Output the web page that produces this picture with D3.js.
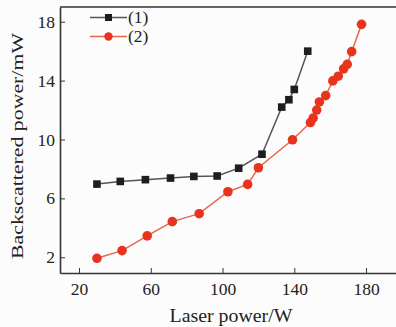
<!DOCTYPE html>
<html>
<head>
<meta charset="utf-8">
<script src="https://cdn.jsdelivr.net/npm/d3@7"></script>
<style>
  body { margin: 0; background: #fcfcfc; }
  svg { display: block; }
  text { font-family: "Liberation Serif", "DejaVu Serif", serif; fill: #222; }
</style>
</head>
<body>
<div id="chart"></div>
<script>
// series (1): black squares
const power1 = [30, 43, 57, 71, 84, 97, 109, 122, 133, 137, 140, 147.5];
const back1 = [6.97, 7.15, 7.27, 7.38, 7.49, 7.52, 8.05, 9.0, 12.2, 12.7, 13.4, 16.0];

// series (2): red circles
const power2 = [30, 44, 58, 72, 87, 103, 114, 120, 139, 149, 150.5, 152.5, 154, 157.5, 161.5, 164.5, 167.5, 169.5, 172, 177.5];
const back2 = [1.93, 2.45, 3.45, 4.42, 4.96, 6.45, 6.95, 8.08, 9.98, 11.15, 11.45, 12.0, 12.55, 12.98, 13.98, 14.3, 14.8, 15.1, 15.97, 17.82];

const xTicks = [20, 60, 100, 140, 180];
const yTicks = [2, 6, 10, 14, 18];
const legendLabels = ["(1)", "(2)"];

const width = 396;
const height = 327;
const margin = { top: 7, right: 0, bottom: 54, left: 60 };

const x = d3.scaleLinear().domain([9.4, 196.7]).range([margin.left, width - margin.right]);
const y = d3.scaleLinear().domain([0.93, 19]).range([height - margin.bottom, margin.top]);

const svg = d3.select("#chart").append("svg")
    .attr("width", width)
    .attr("height", height);

// frame: left, bottom and top lines
const axisColor = "#333";
svg.append("line")
    .attr("x1", margin.left).attr("x2", width)
    .attr("y1", margin.top).attr("y2", margin.top)
    .attr("stroke", axisColor).attr("stroke-width", 1.6);

const xAxis = svg.append("g")
    .attr("transform", `translate(0,${height - margin.bottom})`)
    .call(d3.axisBottom(x).tickValues(xTicks).tickSizeInner(-5).tickSizeOuter(0).tickPadding(10));

const yAxis = svg.append("g")
    .attr("transform", `translate(${margin.left},0)`)
    .call(d3.axisLeft(y).tickValues(yTicks).tickSizeInner(-5).tickSizeOuter(0).tickPadding(5));

[xAxis, yAxis].forEach(g => {
    g.select(".domain").attr("stroke", axisColor).attr("stroke-width", 1.6);
    g.selectAll(".tick line").attr("stroke", axisColor).attr("stroke-width", 1);
    g.selectAll(".tick text")
        .attr("font-family", "Liberation Serif, serif")
        .attr("font-size", 17.5)
        .attr("fill", "#222");
});
xAxis.selectAll(".tick text").attr("dy", "0.71em");

// axis titles (glyphs look horizontally stretched in the reference)
svg.append("text")
    .attr("x", 231)
    .attr("y", 322)
    .attr("text-anchor", "middle")
    .attr("font-size", 18)
    .attr("textLength", 123)
    .attr("lengthAdjust", "spacingAndGlyphs")
    .text("Laser power/W");

svg.append("text")
    .attr("transform", "translate(23,146) rotate(-90)")
    .attr("text-anchor", "middle")
    .attr("font-size", 17.5)
    .attr("textLength", 226)
    .attr("lengthAdjust", "spacingAndGlyphs")
    .text("Backscattered power/mW");

// series
const line = d3.line().x(d => x(d[0])).y(d => y(d[1]));
const data1 = power1.map((p, i) => [p, back1[i]]);
const data2 = power2.map((p, i) => [p, back2[i]]);

svg.append("path").datum(data1)
    .attr("d", line).attr("fill", "none")
    .attr("stroke", "#555").attr("stroke-width", 1.5);
svg.append("path").datum(data2)
    .attr("d", line).attr("fill", "none")
    .attr("stroke", "#e26a4e").attr("stroke-width", 1.5);

svg.selectAll(".sq").data(data1).enter().append("rect")
    .attr("x", d => x(d[0]) - 3.8)
    .attr("y", d => y(d[1]) - 3.8)
    .attr("width", 7.6).attr("height", 7.6)
    .attr("fill", "#1e1e1e");

svg.selectAll(".dot").data(data2).enter().append("circle")
    .attr("cx", d => x(d[0]))
    .attr("cy", d => y(d[1]))
    .attr("r", 4.8)
    .attr("fill", "#e8341f");

// legend
const legend = svg.append("g");
const rows = [
    { label: legendLabels[0], color: "#555", mark: "#1e1e1e", shape: "rect", y: 17.5 },
    { label: legendLabels[1], color: "#e26a4e", mark: "#e8341f", shape: "circle", y: 36.5 }
];
rows.forEach(r => {
    legend.append("line")
        .attr("x1", 90).attr("x2", 127)
        .attr("y1", r.y).attr("y2", r.y)
        .attr("stroke", r.color).attr("stroke-width", 1.5);
    if (r.shape === "rect") {
        legend.append("rect")
            .attr("x", 108.5 - 3.5).attr("y", r.y - 3.5)
            .attr("width", 7).attr("height", 7)
            .attr("fill", r.mark);
    } else {
        legend.append("circle")
            .attr("cx", 108.5).attr("cy", r.y).attr("r", 4.2)
            .attr("fill", r.mark);
    }
    legend.append("text")
        .attr("x", 128)
        .attr("y", r.y + 5.5)
        .attr("font-size", 17.5)
        .text(r.label);
});
</script>
</body>
</html>
